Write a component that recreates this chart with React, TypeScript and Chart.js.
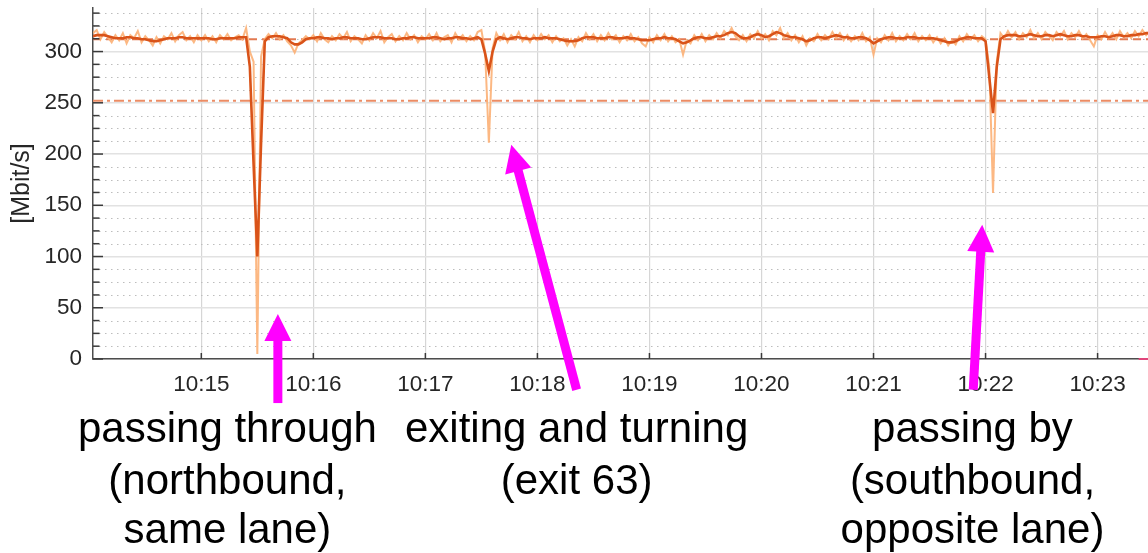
import React, { useEffect, useRef } from 'react';
import { Chart, registerables } from 'chart.js';

Chart.register(...registerables);

// Time axis: seconds after 10:00:00, one sample every 2 s from 10:14:02
const sampleStart = 842;
const sampleStep = 2;

// Raw throughput [Mbit/s]
const rawRate = [
  // 10:14:02 – 10:14:58
  318, 321, 312, 319, 314, 309, 316, 311, 318, 308, 316, 313, 320, 309, 315, 311, 306, 314, 308, 315,
  312, 318, 310, 316, 319, 311, 315, 309, 316,
  // 10:15
  311, 316, 310, 315, 309, 316, 312, 317, 311, 314, 316, 312, 323, 300, 290, 5, 295, 312, 317, 313,
  318, 312, 316, 310, 306, 299, 308, 311, 315, 312,
  // 10:16
  316, 310, 318, 312, 309, 315, 311, 317, 313, 319, 310, 315, 312, 308, 316, 311, 318, 313, 320, 309,
  314, 317, 310, 315, 311, 318, 312, 316, 309, 315,
  // 10:17
  312, 317, 311, 318, 310, 314, 316, 309, 318, 312, 316, 310, 315, 311, 319, 321, 300, 211, 303, 318,
  311, 317, 309, 316, 312, 319, 310, 315, 309, 316,
  // 10:18
  311, 317, 312, 316, 309, 315, 310, 313, 306, 312, 305, 314, 310, 318, 312, 317, 310, 316, 311, 318,
  312, 316, 309, 315, 311, 317, 310, 314, 308, 305,
  // 10:19
  314, 309, 316, 311, 317, 310, 315, 309, 312, 297, 311, 308, 316, 311, 317, 310, 316, 312, 318, 313,
  320, 316, 323, 315, 311, 316, 310, 317, 313, 320,
  // 10:20
  313, 317, 311, 320, 316, 323, 313, 318, 311, 316, 309, 315, 306, 313, 310, 317, 311, 316, 312, 319,
  313, 318, 311, 316, 310, 315, 311, 318, 310, 314,
  // 10:21
  297, 313, 309, 316, 311, 318, 310, 315, 311, 317, 312, 318, 310, 315, 311, 316, 309, 314, 308, 313,
  306, 311, 307, 315, 310, 317, 312, 316, 310, 315,
  // 10:22
  312, 285, 162, 290, 318, 313, 320, 314, 319, 312, 318, 314, 321, 313, 318, 312, 319, 315, 311, 319,
  315, 320, 312, 318, 314, 320, 313, 317, 311, 305,
  // 10:23
  316, 312, 319, 313, 318, 312, 320, 314, 318, 313, 320, 315, 321, 316, 320,
];

// Smoothed throughput [Mbit/s]
const smoothedRate = [
  // 10:14:02 – 10:14:58
  315, 316, 316, 316, 315, 314, 313, 313, 313, 314, 314, 313, 313, 312, 312, 311, 310, 310, 311, 312,
  313, 313, 313, 314, 314, 313, 313, 313, 313,
  // 10:15
  313, 313, 313, 312, 312, 313, 313, 313, 313, 313, 314, 314, 314, 285, 190, 100, 210, 310, 314, 315,
  315, 315, 314, 313, 309, 307, 307, 309, 312, 313,
  // 10:16
  313, 314, 314, 313, 313, 312, 313, 313, 314, 314, 313, 313, 313, 312, 312, 313, 314, 314, 314, 313,
  313, 313, 312, 312, 313, 313, 314, 314, 313, 313,
  // 10:17
  313, 313, 314, 314, 313, 312, 313, 313, 314, 314, 313, 313, 312, 313, 314, 312, 298, 281, 300, 312,
  314, 313, 312, 313, 314, 314, 313, 313, 312, 313,
  // 10:18
  313, 313, 314, 313, 313, 313, 312, 311, 310, 310, 310, 311, 313, 314, 314, 314, 313, 313, 313, 314,
  314, 313, 313, 313, 314, 313, 313, 312, 311, 311,
  // 10:19
  311, 312, 313, 313, 314, 313, 313, 312, 310, 308, 309, 311, 313, 314, 314, 313, 313, 314, 315, 315,
  316, 318, 319, 318, 315, 313, 313, 314, 316, 317,
  // 10:20
  316, 314, 315, 317, 319, 318, 316, 315, 314, 314, 313, 312, 310, 311, 313, 314, 314, 313, 314, 315,
  316, 315, 314, 314, 313, 313, 314, 314, 313, 311,
  // 10:21
  308, 310, 312, 313, 314, 314, 313, 313, 313, 314, 314, 314, 313, 313, 313, 313, 313, 312, 311, 310,
  309, 309, 310, 312, 313, 314, 314, 313, 313, 313,
  // 10:22
  310, 275, 240, 285, 312, 315, 316, 316, 316, 315, 315, 316, 317, 316, 315, 315, 316, 316, 315, 316,
  317, 316, 315, 315, 316, 316, 315, 315, 314, 314,
  // 10:23
  314, 315, 315, 314, 315, 316, 316, 315, 315, 316, 316, 317, 317, 318, 318,
];

const meanRate = 312;
const thresholdRate = 252;

const otherTimes = [1402, 1408];
const otherRate = [0, 0];

const xMin = 842;
const xMax = 1407;
const yMin = 0;
const yMax = 342.5;

const xTickValues = [900, 960, 1020, 1080, 1140, 1200, 1260, 1320, 1380];
const xTickLabels = ['10:15', '10:16', '10:17', '10:18', '10:19', '10:20', '10:21', '10:22', '10:23'];
const yTickValues = [0, 50, 100, 150, 200, 250, 300];
const yMinorTickValues = [
  12.5, 25, 37.5, 62.5, 75, 87.5, 112.5, 125, 137.5, 162.5, 175, 187.5,
  212.5, 225, 237.5, 262.5, 275, 287.5, 312.5, 325, 337.5,
];

const yAxisTitle = '[Mbit/s]';
const eventTexts = [
  ['passing through', '(northbound,', 'same lane)'],
  ['exiting and turning', '(exit 63)'],
  ['passing by', '(southbound,', 'opposite lane)'],
];

// Annotation placement (data coordinates for arrows, text anchored under the axis)
const EVENT_LAYOUT = [
  { textT: 914, tip: [941, 44], tail: [941, -43] },
  { textT: 1101, tip: [1066, 209], tail: [1101, -30] },
  { textT: 1313, tip: [1318.2, 131], tail: [1313.4, -30] },
];
const TEXT_LINE_OFFSETS = [83, 135, 184];

const FONT = '"Liberation Sans", Arial, Helvetica, sans-serif';

const sampleTimes = rawRate.map((_, i) => sampleStart + i * sampleStep);

const decorPlugin = {
  id: 'decor',
  beforeDatasetsDraw(chart: any) {
    const { ctx, chartArea: a, scales } = chart;
    const y = scales.y;
    ctx.save();
    ctx.strokeStyle = '#bdbdbd';
    ctx.lineWidth = 1;
    ctx.setLineDash([1.5, 4.5]);
    for (const v of yMinorTickValues) {
      const py = Math.round(y.getPixelForValue(v)) + 0.5;
      ctx.beginPath();
      ctx.moveTo(a.left, py);
      ctx.lineTo(a.right, py);
      ctx.stroke();
    }
    ctx.restore();
  },
  afterDraw(chart: any) {
    const { ctx, chartArea: a, scales } = chart;
    const x = scales.x;
    const y = scales.y;
    ctx.save();
    // inward tick marks
    ctx.strokeStyle = '#3a3a3a';
    ctx.lineWidth = 1.5;
    for (const v of yTickValues) {
      const py = y.getPixelForValue(v);
      ctx.beginPath();
      ctx.moveTo(a.left, py);
      ctx.lineTo(a.left + 10, py);
      ctx.stroke();
    }
    for (const v of yMinorTickValues) {
      const py = y.getPixelForValue(v);
      ctx.beginPath();
      ctx.moveTo(a.left, py);
      ctx.lineTo(a.left + 6.5, py);
      ctx.stroke();
    }
    for (const v of xTickValues) {
      const px = x.getPixelForValue(v);
      ctx.beginPath();
      ctx.moveTo(px, a.bottom);
      ctx.lineTo(px, a.bottom - 6);
      ctx.stroke();
    }

    // annotations
    const headLen = 27;
    const headHalf = 13.5;
    ctx.fillStyle = '#FF00FF';
    ctx.strokeStyle = '#FF00FF';
    ctx.lineWidth = 9;
    ctx.lineCap = 'butt';
    EVENT_LAYOUT.forEach((ev) => {
      const tx = x.getPixelForValue(ev.tip[0]);
      const ty = y.getPixelForValue(ev.tip[1]);
      const sx = x.getPixelForValue(ev.tail[0]);
      const sy = y.getPixelForValue(ev.tail[1]);
      const dx = tx - sx;
      const dy = ty - sy;
      const len = Math.hypot(dx, dy);
      const ux = dx / len;
      const uy = dy / len;
      const bx = tx - ux * headLen;
      const by = ty - uy * headLen;
      ctx.beginPath();
      ctx.moveTo(sx, sy);
      ctx.lineTo(bx + ux * 2, by + uy * 2);
      ctx.stroke();
      ctx.beginPath();
      ctx.moveTo(tx, ty);
      ctx.lineTo(bx - uy * headHalf, by + ux * headHalf);
      ctx.lineTo(bx + uy * headHalf, by - ux * headHalf);
      ctx.closePath();
      ctx.fill();
    });

    ctx.fillStyle = '#000000';
    ctx.font = `42px ${FONT}`;
    ctx.textAlign = 'center';
    ctx.textBaseline = 'alphabetic';
    eventTexts.forEach((lines, i) => {
      const cx = x.getPixelForValue(EVENT_LAYOUT[i].textT);
      lines.forEach((line, j) => {
        ctx.fillText(line, cx, a.bottom + TEXT_LINE_OFFSETS[j]);
      });
    });
    ctx.restore();
  },
};

export default function App() {
  const canvasRef = useRef<HTMLCanvasElement | null>(null);

  useEffect(() => {
    const canvas = canvasRef.current;
    if (!canvas) return;
    const toPoints = (ts: number[], vs: number[]) => vs.map((v, i) => ({ x: ts[i], y: v }));

    const chart = new Chart(canvas, {
      type: 'line',
      data: {
        datasets: [
          {
            label: 'smoothed',
            data: toPoints(sampleTimes, smoothedRate),
            borderColor: '#D95319',
            borderWidth: 2.6,
            pointRadius: 0,
            tension: 0,
          },
          {
            label: 'raw',
            data: toPoints(sampleTimes, rawRate),
            borderColor: 'rgba(252,176,118,0.9)',
            borderWidth: 2,
            pointRadius: 0,
            tension: 0,
          },
          {
            label: 'mean',
            data: toPoints([xMin, xMax], [meanRate, meanRate]),
            borderColor: 'rgb(226,122,82)',
            borderWidth: 1.8,
            borderDash: [8, 5],
            pointRadius: 0,
          },
          {
            label: 'threshold',
            data: toPoints([xMin, xMax], [thresholdRate, thresholdRate]),
            borderColor: 'rgb(236,140,100)',
            borderWidth: 2,
            borderDash: [10, 4, 3, 4],
            pointRadius: 0,
          },
          {
            label: 'other',
            data: toPoints(otherTimes, otherRate),
            borderColor: '#E0457B',
            borderWidth: 2,
            pointRadius: 0,
            clip: false,
          },
        ],
      },
      options: {
        animation: false,
        responsive: false,
        maintainAspectRatio: false,
        layout: { padding: { top: 8, right: 0, bottom: 0, left: 0 } },
        plugins: {
          legend: { display: false },
          tooltip: { enabled: false },
        },
        scales: {
          x: {
            type: 'linear',
            min: xMin,
            max: xMax,
            afterBuildTicks: (axis: any) => {
              axis.ticks = xTickValues.map((v) => ({ value: v }));
            },
            afterFit: (axis: any) => {
              axis.height = 194;
              axis.paddingLeft = 0;
              axis.paddingRight = 0;
            },
            ticks: {
              autoSkip: false,
              maxRotation: 0,
              padding: 12,
              color: '#262626',
              font: { family: FONT, size: 22.5 },
              callback: (_v: any, i: number) => xTickLabels[i],
            },
            grid: { color: '#d6d6d6', lineWidth: 1.2, drawTicks: false },
            border: { display: true, color: '#4d4d4d', width: 1.5 },
          },
          y: {
            type: 'linear',
            min: yMin,
            max: yMax,
            afterBuildTicks: (axis: any) => {
              axis.ticks = yTickValues.map((v) => ({ value: v }));
            },
            afterFit: (axis: any) => {
              axis.width = 93;
              axis.paddingTop = 0;
              axis.paddingBottom = 0;
            },
            ticks: {
              padding: 11,
              color: '#262626',
              font: { family: FONT, size: 22.5 },
              callback: (v: any) => String(v),
            },
            grid: { color: '#e2e2e2', lineWidth: 1.5, drawTicks: false },
            border: { display: true, color: '#4d4d4d', width: 1.5 },
            title: {
              display: true,
              text: yAxisTitle,
              color: '#262626',
              font: { family: FONT, size: 25 },
              padding: { top: 7, bottom: 0 },
            },
          },
        },
      },
      plugins: [decorPlugin],
    } as any);

    return () => chart.destroy();
  }, []);

  return (
    <div style={{ position: 'absolute', left: 0, top: 0, width: 1148, height: 553, background: '#ffffff' }}>
      <canvas ref={canvasRef} width={1148} height={553} style={{ display: 'block' }} />
    </div>
  );
}
